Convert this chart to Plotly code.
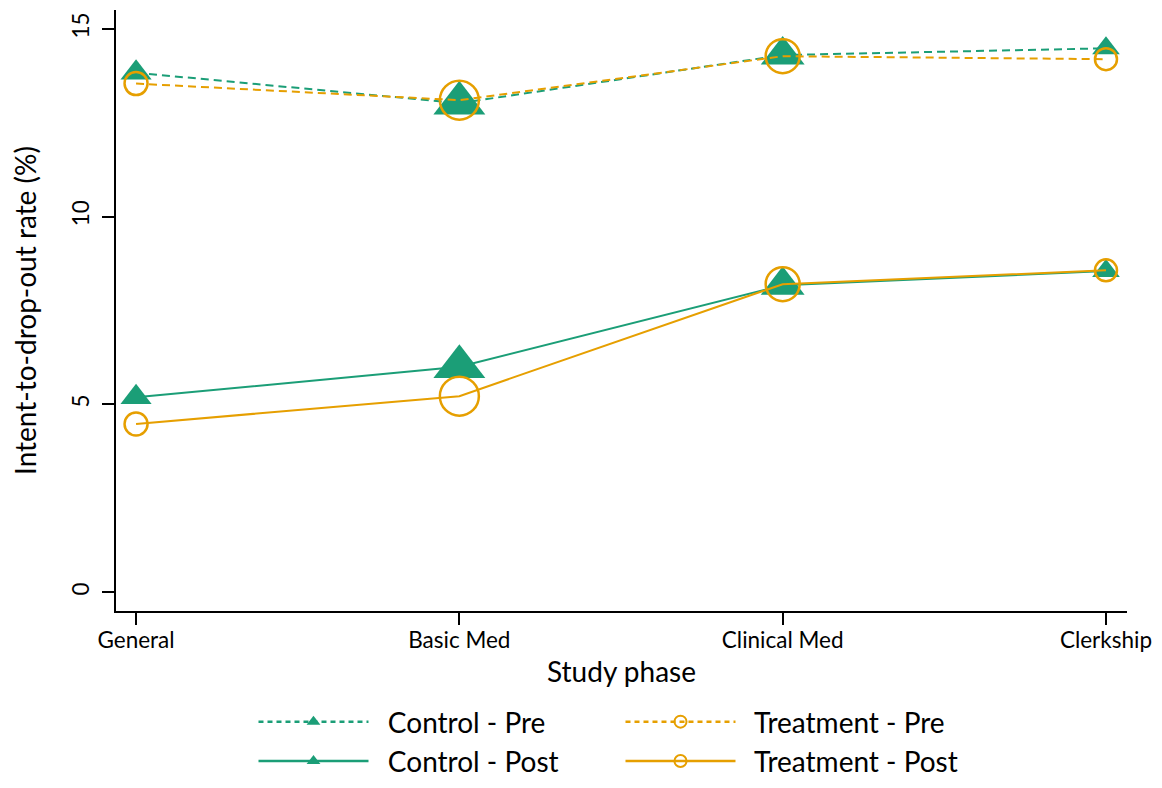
import plotly.graph_objects as go

phases = ["General", "Basic Med", "Clinical Med", "Clerkship"]
control_pre = [13.83, 13.02, 14.30, 14.48]
treatment_pre = [13.54, 13.10, 14.27, 14.19]
control_post = [5.19, 6.00, 8.17, 8.55]
treatment_post = [4.48, 5.22, 8.20, 8.57]
# relative marker sizes (sample weight)
tri_sizes = [27, 45, 38, 24]
circ_sizes = [23, 39, 34, 22]

GREEN = "#1b9e77"
ORANGE = "#e69f00"
FONT = "Lato"
PAD = "\u00a0\u00a0"

series = [
    ("Control - Pre", control_pre, GREEN, "dash", "triangle-up", tri_sizes),
    ("Treatment - Pre", treatment_pre, ORANGE, "dash", "circle-open", circ_sizes),
    ("Control - Post", control_post, GREEN, "solid", "triangle-up", tri_sizes),
    ("Treatment - Post", treatment_post, ORANGE, "solid", "circle-open", circ_sizes),
]

fig = go.Figure()
for name, vals, col, style, sym, sizes in series:
    is_open = sym.endswith("open")
    mline = dict(width=2.5, color=col) if is_open else dict(width=0)
    # data trace
    fig.add_trace(go.Scatter(
        x=phases, y=vals, name=name, showlegend=False, mode="lines+markers",
        line=dict(color=col, width=2, dash="8px,5px" if style == "dash" else "solid"),
        marker=dict(symbol=sym, size=sizes, color=col, opacity=1, line=mline)))
for name, vals, col, style, sym, sizes in series:
    is_open = sym.endswith("open")
    mline = dict(width=2, color=col) if is_open else dict(width=0)
    # legend key (no visible data)
    fig.add_trace(go.Scatter(
        x=[phases[0]], y=[None], name=PAD + name, showlegend=True, mode="lines+markers",
        line=dict(color=col, width=2.5, dash="5px,4px" if style == "dash" else "solid"),
        marker=dict(symbol=sym, size=12, color=col, opacity=1, line=mline)))

fig.update_layout(
    width=1146, height=772,
    margin=dict(l=108, r=27, t=2, b=169, autoexpand=False),
    paper_bgcolor="white", plot_bgcolor="white",
    font=dict(family=FONT, color="black"),
    showlegend=True,
    legend=dict(orientation="h", x=0.136, xanchor="left", y=-0.143, yanchor="top",
                font=dict(size=28, family=FONT), tracegroupgap=0,
                itemwidth=110, entrywidth=242, entrywidthmode="pixels",
                bgcolor="rgba(0,0,0,0)"),
)
fig.update_xaxes(range=[-0.062, 3.065], showline=True, linecolor="black", linewidth=2,
                 ticks="outside", ticklen=12, tickwidth=2, tickcolor="black", automargin=False,
                 ticklabelstandoff=-4,
                 showgrid=False, zeroline=False, tickfont=dict(size=22.5, family=FONT),
                 title=dict(text="Study phase", font=dict(size=28, family=FONT), standoff=10))
fig.update_yaxes(range=[-0.5, 15.5], showline=True, linecolor="black", linewidth=2,
                 tickvals=[0, 5, 10, 15], ticks="outside", ticklen=12, tickwidth=2, tickcolor="black",
                 tickangle=-90, showgrid=False, zeroline=False, tickfont=dict(size=22.5, family=FONT),
                 ticklabelstandoff=4, automargin=False,
                 title=dict(text="Intent-to-drop-out rate (%)", font=dict(size=28, family=FONT), standoff=24))

fig.write_html("out.html")
